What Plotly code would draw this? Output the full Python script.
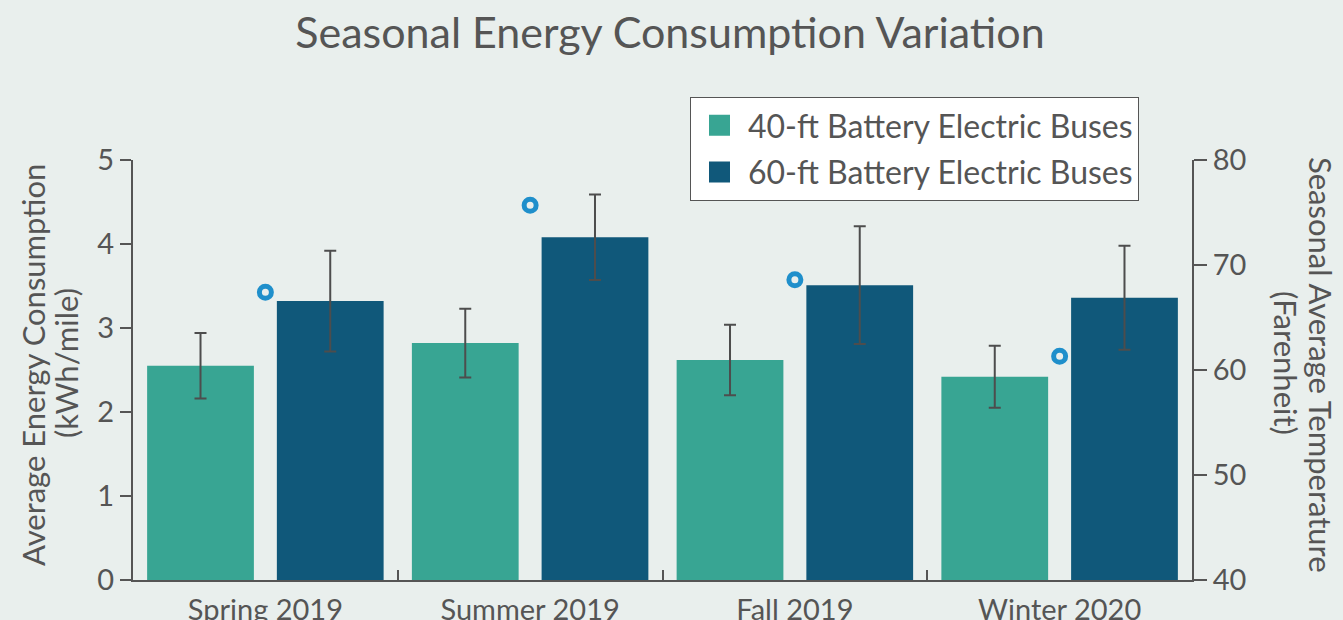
import plotly.graph_objects as go

seasons = ["Spring 2019", "Summer 2019", "Fall 2019", "Winter 2020"]
bus40 = [2.55, 2.82, 2.62, 2.42]
bus40_err = [0.39, 0.41, 0.42, 0.37]
bus60 = [3.32, 4.08, 3.51, 3.36]
bus60_err = [0.60, 0.51, 0.70, 0.62]
temperature = [67.4, 75.7, 68.6, 61.3]
series_names = ["40-ft Battery Electric Buses", "60-ft Battery Electric Buses"]

FONT = "Lato"
TXT = "#555555"
AX = "#555555"
BG = "#e9efed"
C40 = "#38a593"
C60 = "#10587a"

L, R, T, B = 133, 151, 160, 40
PW = 1343 - L - R
PH = 620 - T - B


def px(x):
    return (x - L) / PW


def py(y):
    return (620 - B - y) / PH


fig = go.Figure()
fig.add_trace(go.Bar(
    x=seasons, y=bus40, name=series_names[0], showlegend=False,
    marker=dict(color=C40, line=dict(width=0)),
    error_y=dict(type="data", array=bus40_err, color="#4d4d4d", thickness=2, width=6),
))
fig.add_trace(go.Bar(
    x=seasons, y=bus60, name=series_names[1], showlegend=False,
    marker=dict(color=C60, line=dict(width=0)),
    error_y=dict(type="data", array=bus60_err, color="#4d4d4d", thickness=2, width=6),
))
fig.add_trace(go.Scatter(
    x=seasons, y=temperature, yaxis="y2", mode="markers", showlegend=False,
    marker=dict(symbol="circle-open", size=12, color="#1f8fcb", line=dict(width=5, color="#1f8fcb")),
))
# legend entries with larger square swatches
for nm, col, grp in zip(series_names, [C40, C60], ["a", "b"]):
    fig.add_trace(go.Scatter(
        x=[None], y=[None], mode="markers", name=nm, legendgroup=grp,
        marker=dict(symbol="square", size=20, color=col, line=dict(width=5, color=col)),
    ))

title_font = dict(size=31, color=TXT, family=FONT)

fig.update_layout(
    width=1343, height=620,
    paper_bgcolor=BG, plot_bgcolor=BG,
    font=dict(family=FONT, color=TXT, size=29),
    margin=dict(l=L, r=R, t=T, b=B, autoexpand=False),
    barmode="group", bargap=0.02, bargroupgap=0.177,
    title=dict(text="Seasonal Energy Consumption Variation", x=670 / 1343, xanchor="center",
               y=1 - 33 / 620, yanchor="middle", yref="container",
               font=dict(family=FONT, size=43, color=TXT)),
    xaxis=dict(showline=True, linecolor=AX, linewidth=2, ticks="inside", tickson="boundaries",
               ticklen=10, tickwidth=2, tickcolor=AX, showgrid=False, zeroline=False,
               automargin=False, ticklabelstandoff=3, tickfont=dict(size=29, color=TXT)),
    yaxis=dict(range=[0, 5], tickvals=[0, 1, 2, 3, 4, 5], showline=True, linecolor=AX, linewidth=2,
               ticks="outside", ticklen=11, tickwidth=2, tickcolor=AX, showgrid=False,
               zeroline=False, automargin=False, tickfont=dict(size=29, color=TXT)),
    yaxis2=dict(range=[40, 80], tickvals=[40, 50, 60, 70, 80], overlaying="y", side="right",
                anchor="x", showline=True, linecolor=AX, linewidth=2, ticks="outside",
                ticklen=13, tickwidth=2, tickcolor=AX, showgrid=False, zeroline=False,
                automargin=False, tickfont=dict(size=29, color=TXT)),
    legend=dict(x=px(690), y=py(97), xanchor="left", yanchor="top",
                bgcolor="white", bordercolor=AX, borderwidth=1, tracegroupgap=2,
                itemwidth=47, itemsizing="trace",
                font=dict(size=32, color=TXT, family=FONT)),
    annotations=[
        dict(text="Average Energy Consumption", xref="paper", yref="paper",
             x=px(33), y=py(365), xanchor="center", yanchor="middle", textangle=-90,
             showarrow=False, font=title_font),
        dict(text="(kWh/mile)", xref="paper", yref="paper",
             x=px(66), y=py(363), xanchor="center", yanchor="middle", textangle=-90,
             showarrow=False, font=title_font),
        dict(text="Seasonal Average Temperature", xref="paper", yref="paper",
             x=px(1321), y=py(365), xanchor="center", yanchor="middle", textangle=90,
             showarrow=False, font=title_font),
        dict(text="(Farenheit)", xref="paper", yref="paper",
             x=px(1286), y=py(363), xanchor="center", yanchor="middle", textangle=90,
             showarrow=False, font=title_font),
    ],
)

fig.write_html("out.html", config={"displayModeBar": False},
               post_script="document.body.style.margin='0';document.body.style.overflow='hidden';")
